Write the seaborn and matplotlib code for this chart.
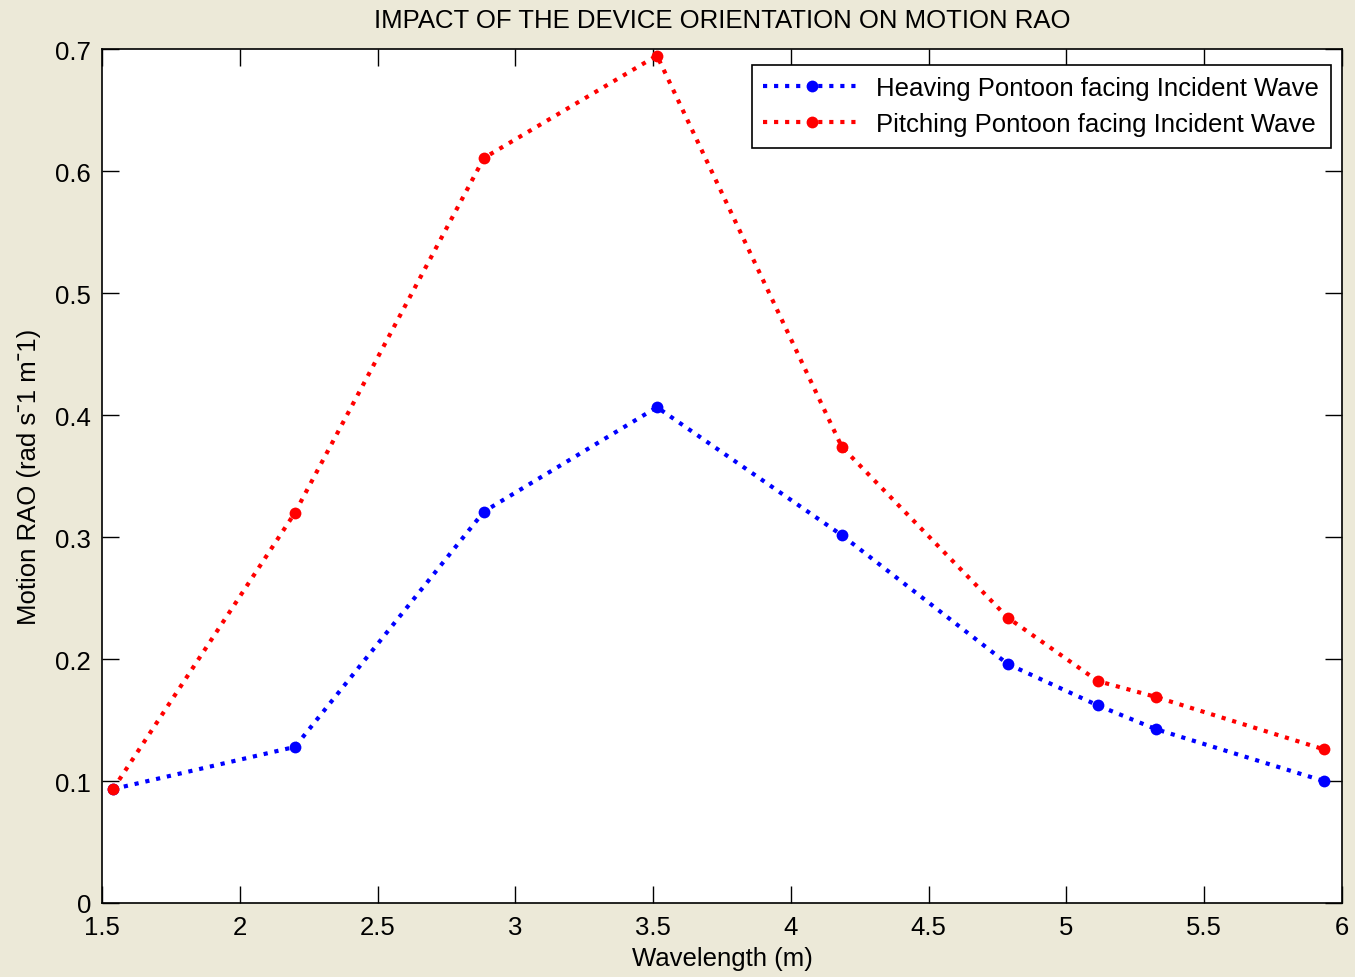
import numpy as np
import pandas as pd
import matplotlib
matplotlib.use("Agg")
import matplotlib.pyplot as plt
import seaborn as sns

# Donnees
wavelength = [1.54, 2.20, 2.886, 3.514, 4.185, 4.787, 5.114, 5.324, 5.934]
heaving = [0.0934, 0.128, 0.321, 0.4066, 0.3016, 0.196, 0.162, 0.1426, 0.100]
pitching = [0.0934, 0.320, 0.611, 0.695, 0.374, 0.234, 0.182, 0.169, 0.126]

label_heave = "Heaving Pontoon facing Incident Wave"
label_pitch = "Pitching Pontoon facing Incident Wave"

df = pd.DataFrame({
    "Wavelength": wavelength * 2,
    "RAO": heaving + pitching,
    "Serie": [label_heave] * len(heaving) + [label_pitch] * len(pitching),
})

sns.set_style("ticks")
plt.rcParams['font.family'] = ['Liberation Sans', 'DejaVu Sans']
plt.rcParams['text.color'] = 'black'
plt.rcParams['axes.labelcolor'] = 'black'
plt.rcParams['xtick.color'] = 'black'
plt.rcParams['ytick.color'] = 'black'

fs = 18.5

fig = plt.figure(figsize=(13.55, 9.78), dpi=100, facecolor="#ECE9D8")
ax = fig.add_axes([0.0753, 0.0757, 0.9151, 0.8727])
ax.set_facecolor("white")

sns.lineplot(data=df, x="Wavelength", y="RAO", hue="Serie",
             palette={label_heave: "#0000FF", label_pitch: "#FF0000"},
             marker="o", markersize=8.5, markeredgewidth=0, linestyle=":",
             linewidth=3, ax=ax, sort=False)

ax.set_xlim(1.5, 6)
ax.set_ylim(0, 0.7)
ax.set_xticks(np.arange(1.5, 6.01, 0.5))
ax.set_xticklabels(["1.5", "2", "2.5", "3", "3.5", "4", "4.5", "5", "5.5", "6"])
ax.set_yticks(np.arange(0, 0.71, 0.1))
ax.set_yticklabels(["0", "0.1", "0.2", "0.3", "0.4", "0.5", "0.6", "0.7"])
ax.tick_params(direction="in", top=True, right=True, length=12, width=1,
               labelsize=fs)
ax.tick_params(axis="x", pad=9)
ax.tick_params(axis="y", pad=8)
for s in ax.spines.values():
    s.set_linewidth(1.2)
    s.set_color("black")

ax.set_title("IMPACT OF THE DEVICE ORIENTATION ON MOTION RAO", fontsize=fs, pad=16)
ax.set_xlabel("Wavelength (m)", fontsize=fs, labelpad=5)
ax.set_ylabel("Motion RAO (rad s\u02c91 m\u02c91)", fontsize=fs, labelpad=10)

leg = ax.legend(loc="upper right", fontsize=fs, frameon=True, fancybox=False,
                edgecolor="black", framealpha=1, borderpad=0.45,
                handlelength=3.8, handletextpad=0.6, labelspacing=0.45,
                borderaxespad=0, bbox_to_anchor=(0.991, 0.982))
leg.get_frame().set_linewidth(1.2)

fig.savefig("out.png", dpi=100, facecolor=fig.get_facecolor())
